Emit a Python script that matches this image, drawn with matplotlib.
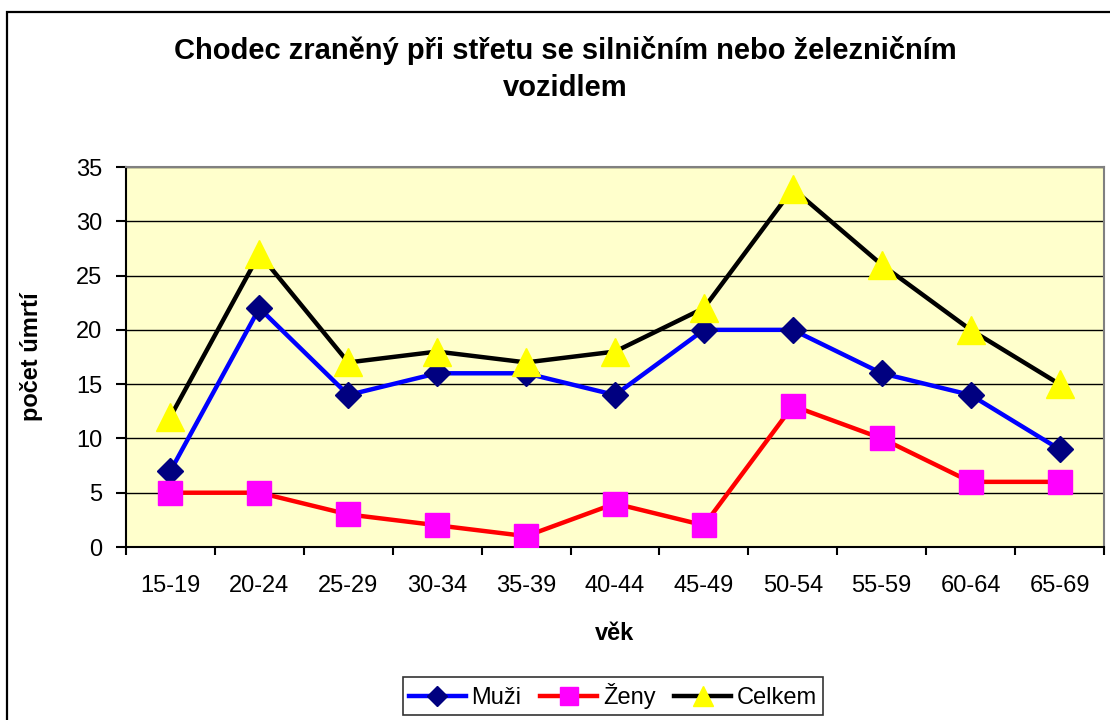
import matplotlib
matplotlib.use("Agg")
import matplotlib.pyplot as plt
from matplotlib.patches import Rectangle
import numpy as np

plt.rcParams["font.family"] = ["Liberation Sans", "DejaVu Sans"]

vek = ["15-19", "20-24", "25-29", "30-34", "35-39", "40-44",
       "45-49", "50-54", "55-59", "60-64", "65-69"]
muzi = [7, 22, 14, 16, 16, 14, 20, 20, 16, 14, 9]
zeny = [5, 5, 3, 2, 1, 4, 2, 13, 10, 6, 6]
celkem = [12, 27, 17, 18, 17, 18, 22, 33, 26, 20, 15]

fig = plt.figure(figsize=(11.1, 7.2), dpi=100)
ax = fig.add_axes([126 / 1110, 1 - 547 / 720, (1104 - 126) / 1110, (547 - 167) / 720])
ax.set_facecolor("#FFFFCC")

# outer chart frame (runs off the right and bottom edges)
fig.patches.append(Rectangle((7 / 1110, -0.2), 1.2, 1.2 - 12 / 720,
                             transform=fig.transFigure, fill=False,
                             edgecolor="black", linewidth=1.6))

x = np.arange(len(vek))
ax.plot(x, muzi, color="#0000FF", linewidth=3.2, marker="D", markersize=13,
        markerfacecolor="#000080", markeredgecolor="#000080", label="Muži", zorder=3)
ax.plot(x, zeny, color="#FF0000", linewidth=3.2, marker="s", markersize=17,
        markerfacecolor="#FF00FF", markeredgecolor="#FF00FF", label="Ženy", zorder=3)
ax.plot(x, celkem, color="black", linewidth=3.2, marker="^", markersize=20,
        markerfacecolor="#FFFF00", markeredgecolor="#FFFF00", label="Celkem", zorder=3)

ax.set_xlim(-0.5, len(vek) - 0.5)
ax.set_ylim(0, 35)
ax.set_yticks(np.arange(0, 36, 5))
ax.yaxis.grid(True, color="black", linewidth=1)
ax.set_axisbelow(True)

ax.set_xticks(np.arange(-0.5, len(vek), 1))
ax.set_xticklabels([])
ax.set_xticks(x, minor=True)
ax.set_xticklabels(vek, minor=True)
ax.tick_params(axis="x", which="minor", length=0, pad=20, labelsize=17)
ax.tick_params(axis="x", which="major", length=6, width=1.5, direction="out")
ax.tick_params(axis="y", length=7, width=1.5, direction="out", labelsize=17, pad=10)

for side in ["top", "right"]:
    ax.spines[side].set_color("#808080")
    ax.spines[side].set_linewidth(1.5)
for side in ["left", "bottom"]:
    ax.spines[side].set_color("black")
    ax.spines[side].set_linewidth(1.5)

ax.set_xlabel("věk", fontsize=17, fontweight="bold", labelpad=18)
ax.set_ylabel("počet úmrtí", fontsize=17, fontweight="bold", labelpad=24)

fig.text(565 / 1110, 1 - 69 / 720,
         "Chodec zraněný při střetu se silničním nebo železničním\nvozidlem",
         ha="center", va="center", fontsize=21, fontweight="bold", linespacing=1.45)

leg = fig.legend(loc="center", bbox_to_anchor=(613 / 1110, 1 - 696 / 720),
                 ncol=3, fontsize=17, frameon=True, fancybox=False,
                 edgecolor="black", handlelength=2.4, handletextpad=0.25,
                 columnspacing=0.8, borderpad=0.25, markerscale=0.75)
leg.get_frame().set_linewidth(1.2)

fig.savefig("out.png", dpi=100)
